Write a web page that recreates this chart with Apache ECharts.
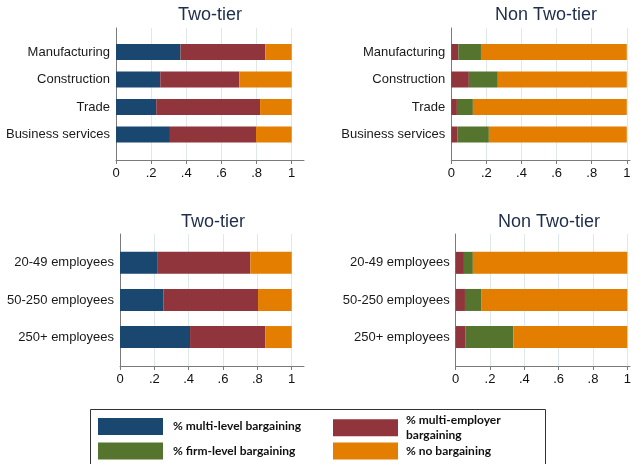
<!DOCTYPE html>
<html>
<head>
<meta charset="utf-8">
<script src="https://cdn.jsdelivr.net/npm/echarts@6/dist/echarts.min.js"></script>
<style>
  html, body { margin: 0; padding: 0; background: #fff; }
  #chart { width: 636px; height: 464px; }
</style>
</head>
<body>
<div id="chart"></div>
<script>
// Categories
const sectors = ['Manufacturing', 'Construction', 'Trade', 'Business services'];
const firmSizes = ['20-49 employees', '50-250 employees', '250+ employees'];
const seriesNames = ['% multi-level bargaining', '% multi-employer bargaining', '% firm-level bargaining', '% no bargaining'];

// Shares by sector, two-tier firms
const sectorTwoMultiLevel    = [0.367, 0.252, 0.229, 0.307];
const sectorTwoMultiEmployer = [0.483, 0.450, 0.591, 0.490];
const sectorTwoFirmLevel     = [0, 0, 0, 0];
const sectorTwoNone          = [0.150, 0.298, 0.180, 0.203];

// Shares by sector, non two-tier firms
const sectorNonMultiLevel    = [0, 0, 0, 0];
const sectorNonMultiEmployer = [0.040, 0.100, 0.032, 0.036];
const sectorNonFirmLevel     = [0.129, 0.165, 0.091, 0.178];
const sectorNonNone          = [0.831, 0.735, 0.877, 0.786];

// Shares by firm size, two-tier firms
const sizeTwoMultiLevel    = [0.220, 0.254, 0.408];
const sizeTwoMultiEmployer = [0.539, 0.550, 0.438];
const sizeTwoFirmLevel     = [0, 0, 0];
const sizeTwoNone          = [0.241, 0.196, 0.154];

// Shares by firm size, non two-tier firms
const sizeNonMultiLevel    = [0, 0, 0];
const sizeNonMultiEmployer = [0.048, 0.054, 0.058];
const sizeNonFirmLevel     = [0.052, 0.097, 0.278];
const sizeNonNone          = [0.900, 0.849, 0.664];

const colors = ['#1a476f', '#90353b', '#55752f', '#e37e00'];
const FONT = '"Liberation Sans", Arial, sans-serif';
const AXIS_COLOR = '#7a7a7a';

// Panel layout: the frame carries the axis lines (x line runs a little past 1),
// the scale grid spans 0..1 for ticks, labels and gridlines, bars sit in an inner band.
const panels = [
  { title: 'Two-tier', titleX: 210, titleY: 15, cats: sectors,
    data: [sectorTwoMultiLevel, sectorTwoMultiEmployer, sectorTwoFirmLevel, sectorTwoNone],
    left: 116, unit: 175.7, axisEnd: 304, top: 28, bottom: 160, barTop: 38.25, barBottom: 148.25, barWidth: 16 },
  { title: 'Non Two-tier', titleX: 546, titleY: 15, cats: sectors,
    data: [sectorNonMultiLevel, sectorNonMultiEmployer, sectorNonFirmLevel, sectorNonNone],
    left: 451.3, unit: 175.5, axisEnd: 630, top: 28, bottom: 160, barTop: 38.25, barBottom: 148.25, barWidth: 16 },
  { title: 'Two-tier', titleX: 213, titleY: 222, cats: firmSizes,
    data: [sizeTwoMultiLevel, sizeTwoMultiEmployer, sizeTwoFirmLevel, sizeTwoNone],
    left: 120, unit: 171.7, axisEnd: 304, top: 234, bottom: 366, barTop: 244.3, barBottom: 355.6, barWidth: 22 },
  { title: 'Non Two-tier', titleX: 549, titleY: 222, cats: firmSizes,
    data: [sizeNonMultiLevel, sizeNonMultiEmployer, sizeNonFirmLevel, sizeNonNone],
    left: 455.7, unit: 171.6, axisEnd: 630, top: 234, bottom: 366, barTop: 244.3, barBottom: 355.6, barWidth: 22 }
];

const grid = [], xAxis = [], yAxis = [], series = [], graphic = [];

const fmtTick = v => {
  if (v === 0) return '0';
  if (v === 1) return '1';
  return String(Math.round(v * 10) / 10).replace(/^0/, '');
};

panels.forEach((p, i) => {
  const frame = i * 3, scale = i * 3 + 1, inner = i * 3 + 2;
  const h = p.bottom - p.top;

  // Frame: axis lines only
  grid.push({ left: p.left, top: p.top, width: p.axisEnd - p.left, height: h });
  xAxis.push({
    type: 'value', gridIndex: frame, min: 0, max: 1,
    axisLine: { show: true, lineStyle: { color: AXIS_COLOR, width: 1 } },
    axisTick: { show: false }, axisLabel: { show: false }, splitLine: { show: false }
  });
  yAxis.push({
    type: 'value', gridIndex: frame, min: 0, max: 1,
    axisLine: { show: true, lineStyle: { color: AXIS_COLOR, width: 1 } },
    axisTick: { show: false }, axisLabel: { show: false }, splitLine: { show: false }
  });

  // Scale: ticks, tick labels and light gridlines over 0..1
  grid.push({ left: p.left, top: p.top, width: p.unit, height: h });
  xAxis.push({
    type: 'value', gridIndex: scale, min: 0, max: 1, interval: 0.2,
    axisLine: { show: false },
    axisTick: { show: true, length: 4, lineStyle: { color: AXIS_COLOR } },
    axisLabel: { show: true, formatter: fmtTick, margin: 7,
      color: '#111', fontSize: 13, fontFamily: FONT, showMaxLabel: true, showMinLabel: true },
    splitLine: { show: true, lineStyle: { color: '#dfe9ec', width: 1 } },
    z: 0
  });
  yAxis.push({ type: 'value', gridIndex: scale, min: 0, max: 1, show: false });

  // Inner band: stacked bars with category labels
  grid.push({ left: p.left, top: p.barTop, width: p.unit, height: p.barBottom - p.barTop });
  xAxis.push({ type: 'value', gridIndex: inner, min: 0, max: 1, show: false });
  yAxis.push({
    type: 'category', gridIndex: inner, data: p.cats, inverse: true,
    axisLine: { show: false }, axisTick: { show: false }, splitLine: { show: false },
    axisLabel: { margin: 6, color: '#1a1a1a', fontSize: 13, fontFamily: FONT }
  });

  seriesNames.forEach((name, k) => {
    series.push({
      type: 'bar', name: name, stack: 'panel' + i,
      xAxisIndex: inner, yAxisIndex: inner,
      barWidth: p.barWidth,
      itemStyle: { color: colors[k] },
      data: p.data[k],
      silent: true, z: 3
    });
  });

  graphic.push({
    type: 'text', x: p.titleX, y: p.titleY,
    style: { text: p.title, fontSize: 18, fontFamily: FONT, fill: '#1e2d4b',
      textAlign: 'center', textVerticalAlign: 'middle' }
  });
});

// Legend frame
graphic.push({
  type: 'rect', shape: { x: 90.5, y: 409.5, width: 455, height: 70 },
  style: { fill: 'none', stroke: '#333', lineWidth: 1 }, z: 10
});

const legendPos = [
  { left: 98, top: 418, gap: 5 },
  { left: 333, top: 412, gap: 3 },
  { left: 98, top: 442.5, gap: 5 },
  { left: 333, top: 442.5, gap: 3 }
];
const legend = seriesNames.map((name, k) => ({
  data: [name], left: legendPos[k].left, top: legendPos[k].top, padding: 0,
  itemWidth: 65, itemHeight: 17, icon: 'rect', selectedMode: false,
  formatter: n => n === '% multi-employer bargaining' ? '% multi-employer\nbargaining' : n,
  textStyle: { fontSize: 12, fontWeight: 'bold', fontFamily: 'Lato, sans-serif', color: '#111',
    padding: [0, 0, 0, legendPos[k].gap], lineHeight: 15.7 }
}));

const chart = echarts.init(document.getElementById('chart'), null, { renderer: 'canvas' });
chart.setOption({
  backgroundColor: '#fff',
  animation: false,
  grid, xAxis, yAxis, series, legend, graphic
});
</script>
</body>
</html>
